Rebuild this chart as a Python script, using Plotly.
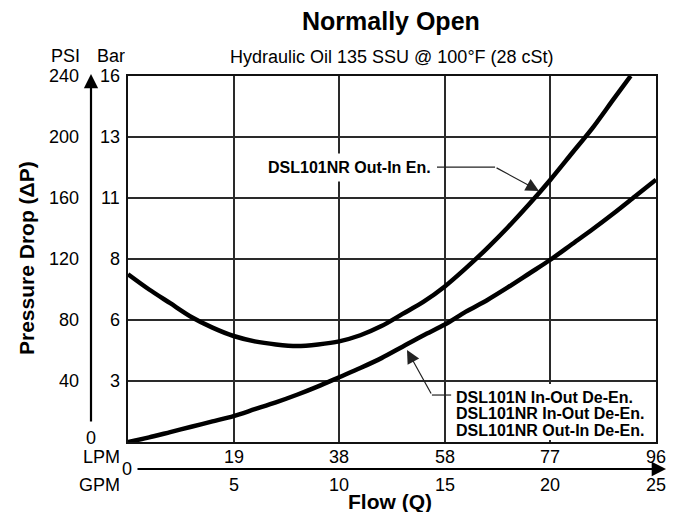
import plotly.graph_objects as go

# ---------------- data ----------------
gpm_ticks = [0, 5, 10, 15, 20, 25]
psi_ticks = [0, 40, 80, 120, 160, 200, 240]
lpm_label_pos = [5, 10, 15, 20, 25]
lpm_labels = ['19', '38', '58', '77', '96']
gpm_labels = ['5', '10', '15', '20', '25']
psi_label_pos = [40, 80, 120, 160, 200, 240]
psi_labels = ['40', '80', '120', '160', '200', '240']
bar_labels = ['3', '6', '8', '11', '13', '16']

# DSL101NR Out-In En. (GPM, PSI)
en_flow = [0, 1, 2, 3, 4, 5, 6, 7, 8, 9, 10, 11, 12, 13, 14, 15, 16, 17, 18, 19, 20, 21, 22, 23, 23.8]
en_dp = [110, 100, 91, 82, 75, 69.5, 66, 64, 63, 64, 66, 70, 76, 84, 92, 102, 114, 127, 141, 156, 172, 189, 206, 225, 240]

# De-En. curves (GPM, PSI)
de_flow = [0, 1, 2, 3, 4, 5, 6, 7, 8, 9, 10, 11, 12, 13, 14, 15, 16, 17, 18, 19, 20, 21, 22, 23, 24, 25]
de_dp = [0, 3, 6.5, 10, 13.5, 17, 21.5, 26, 31, 36.5, 42.5, 48.5, 55, 62.5, 70, 77, 85.5, 93, 101.5, 110.5, 119.5, 129.5, 139.5, 150, 161, 172]

# ---------------- layout geometry (page pixels, body margin 8px) ----------------
OFF = 8
W, H = 678 - 2 * OFF, 520 - 2 * OFF
PL, PR, PT, PB = 128, 656, 76, 442          # plot box on the page
L, R, T, B = PL - OFF, W - (PR - OFF), PT - OFF, H - (PB - OFF)
PW, PH = PR - PL, PB - PT
FONT = "Liberation Sans, Arial, sans-serif"
GRID = "#2a2a2a"


def px(xp):
    return (xp - PL) / PW


def py(yp):
    return (PB - yp) / PH


fig = go.Figure()
fig.add_trace(go.Scatter(x=en_flow, y=en_dp, mode='lines',
                         line=dict(color='black', width=4.5, shape='spline', smoothing=0.8),
                         hoverinfo='skip', showlegend=False))
fig.add_trace(go.Scatter(x=de_flow, y=de_dp, mode='lines',
                         line=dict(color='black', width=4.5, shape='spline', smoothing=0.8),
                         hoverinfo='skip', showlegend=False))

ann = []


def txt(text, x, y, xref='paper', yref='paper', size=18, xanchor='center', yanchor='middle', **kw):
    d = dict(text=text, x=x, y=y, xref=xref, yref=yref, showarrow=False,
             font=dict(family=FONT, size=size, color='black'),
             xanchor=xanchor, yanchor=yanchor, borderpad=0)
    d.update(kw)
    ann.append(d)


# title & subtitle
txt('<b>Normally Open</b>', px(391), py(21), size=25)
txt('Hydraulic Oil 135 SSU @ 100°F (28 cSt)', px(392), py(57), size=18)
txt('PSI', px(65), py(56), size=18, height=16)
txt('Bar', px(111), py(56), size=18, height=16)

# y tick labels
for v, s in zip(psi_label_pos, psi_labels):
    txt(s, px(80), v, yref='y', xanchor='right', height=16)
for v, s in zip(psi_label_pos, bar_labels):
    txt(s, px(121), v, yref='y', xanchor='right', height=16)
txt('0', px(91), py(438), height=16)

# x tick labels
for v, s in zip(lpm_label_pos, lpm_labels):
    txt(s, v, py(457), xref='x', height=16)
for v, s in zip(lpm_label_pos, gpm_labels):
    txt(s, v, py(485), xref='x', height=16)
txt('LPM', px(121), py(457), xanchor='right', height=16)
txt('GPM', px(121), py(485), xanchor='right', height=16)
txt('0', px(127), py(469), height=16)

# axis titles
txt('<b>Flow (Q)</b>', px(390), py(501), size=21)
txt('<b>Pressure Drop (ΔP)</b>', px(26), py(258), size=21, textangle=-90)

# axis arrows
ann.append(dict(x=px(91), y=py(74), xref='paper', yref='paper', ax=0, ay=349, axref='pixel', ayref='pixel',
                text='', showarrow=True, arrowhead=2, arrowsize=1.3, arrowwidth=2.2, arrowcolor='black'))
ann.append(dict(x=px(666), y=py(469), xref='paper', yref='paper', ax=-530, ay=0, axref='pixel', ayref='pixel',
                text='', showarrow=True, arrowhead=2, arrowsize=1.3, arrowwidth=2.2, arrowcolor='black'))

# curve callouts
txt('<b>DSL101NR Out-In En.</b>', 10.51, 180.3, xref='x', yref='y', size=16,
    bgcolor='white', borderpad=5)
ann.append(dict(x=19.46, y=164.6, ax=17.38, ay=180.3, xref='x', yref='y', axref='x', ayref='y',
                text='', showarrow=True, arrowhead=2, arrowsize=2.2, arrowwidth=1.2, arrowcolor='#222'))

de_lines = ['DSL101N In-Out De-En.', 'DSL101NR In-Out De-En.', 'DSL101NR Out-In De-En.']
for i, s in enumerate(de_lines):
    txt('<b>%s</b>' % s, px(455), py(397 + 16.5 * i), size=16, xanchor='left', height=15)
ann.append(dict(x=13.21, y=60.3, ax=14.39, ay=30.8, xref='x', yref='y', axref='x', ayref='y',
                text='', showarrow=True, arrowhead=2, arrowsize=2.2, arrowwidth=1.2, arrowcolor='#222'))

shapes = [
    # white backing behind the three-line callout (hides gridlines)
    dict(type='rect', xref='paper', yref='paper', x0=px(451), x1=px(650), y0=py(440), y1=py(384),
         fillcolor='white', line=dict(width=0), layer='above'),
    dict(type='line', xref='x', yref='y', x0=14.63, y0=180.3, x1=17.38, y1=180.3,
         line=dict(color='#222', width=1.2), layer='above'),
    dict(type='line', xref='x', yref='y', x0=14.39, y0=30.8, x1=15.3, y1=30.8,
         line=dict(color='#222', width=1.2), layer='above'),
]

fig.update_layout(
    width=W, height=H,
    margin=dict(l=L, r=R, t=T, b=B),
    paper_bgcolor='white', plot_bgcolor='white',
    font=dict(family=FONT, size=18, color='black'),
    annotations=ann, shapes=shapes, showlegend=False,
    xaxis=dict(range=[0, 25], tickvals=gpm_ticks, showticklabels=False, ticks='',
               showgrid=True, gridcolor=GRID, gridwidth=1.5, zeroline=False,
               showline=True, linecolor='#111', linewidth=2, mirror=True, fixedrange=True),
    yaxis=dict(range=[0, 240], tickvals=psi_ticks, showticklabels=False, ticks='',
               showgrid=True, gridcolor=GRID, gridwidth=1.5, zeroline=False,
               showline=True, linecolor='#111', linewidth=2, mirror=True, fixedrange=True),
)

fig.write_html("out.html", config=dict(displayModeBar=False))
